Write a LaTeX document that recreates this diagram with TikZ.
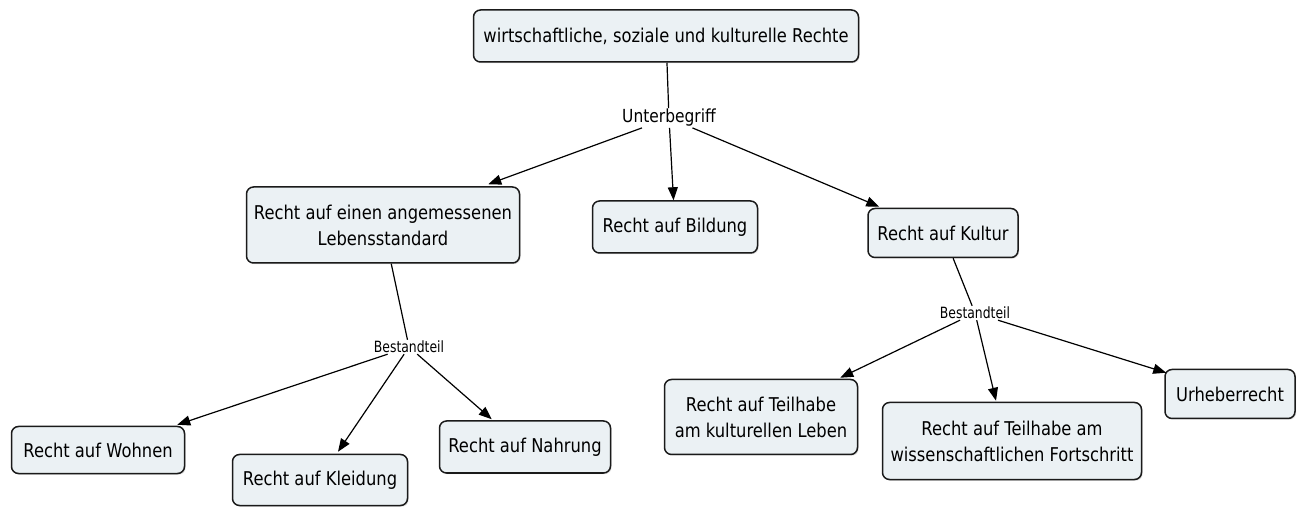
\documentclass[tikz,border=0pt]{standalone}
\usepackage{fontspec}
\setmainfont{DejaVu Sans}[FakeStretch=0.86]
\usetikzlibrary{arrows.meta,shadows,calc}
\definecolor{boxfill}{HTML}{EBF1F4}
\definecolor{boxline}{HTML}{1A1A1A}
\begin{document}
\begin{tikzpicture}[x=1pt,y=-1pt,
  concept/.style={draw=boxline,line width=1.5pt,fill=boxfill,rounded corners=7pt,
    align=center,inner sep=0pt,font=\fontsize{19}{26}\selectfont,
    drop shadow={shadow xshift=1.2pt,shadow yshift=-1.2pt,opacity=0.25}},
  linklabel/.style={inner sep=1pt,font=\fontsize{18}{20}\selectfont},
  smalllabel/.style={inner sep=1pt,font=\fontsize{15.5}{18}\selectfont\addfontfeatures{FakeStretch=0.8}},
  link/.style={line width=1.2pt,draw=black},
  linkarrow/.style={link,-{Triangle[length=13pt,width=10pt]}}]
  \useasboundingbox (0,0) rectangle (1307,510);

  % concepts
  \node[concept,minimum width=385pt,minimum height=52pt] (rights) at (666,36)
    {wirtschaftliche, soziale und kulturelle Rechte};
  \node[concept,minimum width=273pt,minimum height=76pt] (living) at (383,225)
    {Recht auf einen angemessenen\\Lebensstandard};
  \node[concept,minimum width=165pt,minimum height=52pt] (education) at (675,227)
    {Recht auf Bildung};
  \node[concept,minimum width=150pt,minimum height=49pt] (culture) at (943,233)
    {Recht auf Kultur};
  \node[concept,minimum width=173pt,minimum height=47pt] (housing) at (98,450)
    {Recht auf Wohnen};
  \node[concept,minimum width=175pt,minimum height=51pt] (clothing) at (320,480)
    {Recht auf Kleidung};
  \node[concept,minimum width=171pt,minimum height=52pt] (food) at (525,447)
    {Recht auf Nahrung};
  \node[concept,minimum width=193pt,minimum height=75pt] (participation) at (761,417)
    {Recht auf Teilhabe\\am kulturellen Leben};
  \node[concept,minimum width=259pt,minimum height=77pt] (science) at (1012,441)
    {Recht auf Teilhabe am\\wissenschaftlichen Fortschritt};
  \node[concept,minimum width=130pt,minimum height=49pt] (copyright) at (1230,394)
    {Urheberrecht};

  % link phrases
  \node[linklabel] (sub) at (669,118) {Unterbegriff};
  \node[smalllabel] (partA) at (409,347) {Bestandteil};
  \node[smalllabel] (partB) at (975,313) {Bestandteil};

  % connectors
  \draw[link] (rights) -- (sub);
  \draw[linkarrow] (sub) -- ($(living.north east)+(-32,-2)$);
  \draw[linkarrow] (sub) -- (education);
  \draw[linkarrow] (sub) -- ($(culture.north west)+(12,-1)$);

  \draw[link] (living) -- (partA);
  \draw[linkarrow] (partA) -- ($(housing.north east)+(-8,-1)$);
  \draw[linkarrow] (partA) -- ($(clothing.north)+(18,-2)$);
  \draw[linkarrow] (partA) -- ($(food.north west)+(53,-1)$);

  \draw[link] (culture) -- (partB);
  \draw[linkarrow] (partB) -- ($(participation.north east)+(-18,-1)$);
  \draw[linkarrow] (partB) -- ($(science.north)+(-16,-1)$);
  \draw[linkarrow] (partB) -- ($(copyright.north west)+(2,4)$);
\end{tikzpicture}
\end{document}
